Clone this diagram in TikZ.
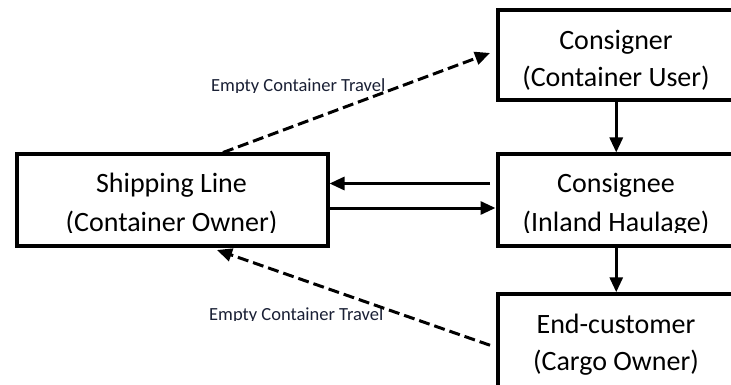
\documentclass[tikz,border=0pt]{standalone}
\usepackage{fontspec}
\setmainfont{Carlito}
\usetikzlibrary{arrows.meta}
\definecolor{labelcol}{HTML}{1A2035}
\tikzset{
  box/.style={draw=black, line width=4pt, rectangle, inner sep=0pt, outer sep=2pt},
  boxtext/.style={anchor=base, inner sep=0pt, font=\fontsize{28}{34}\selectfont, text=black},
  lbltext/.style={anchor=base west, inner sep=0pt, font=\fontsize{18.5}{22}\selectfont, text=labelcol},
  solidarrow/.style={line width=3pt, -{Triangle[length=15pt,width=13pt]}},
  dasharrow/.style={line width=3pt, dash pattern=on 11pt off 5pt, -{Triangle[length=15pt,width=13pt]}}
}
\begin{document}
\begin{tikzpicture}[x=1pt,y=-1pt]
\useasboundingbox (0,0) rectangle (731,385);
\fill[white] (0,0) rectangle (731,385);
\clip (0,0) rectangle (731,385);
% boxes
\node[box, minimum width=237.5pt, minimum height=90pt] (cnr) at (616.25,55.5) {};
\node[box, minimum width=237.5pt, minimum height=91pt] (cee) at (616.25,200) {};
\node[box, minimum width=237.5pt, minimum height=96pt] (end) at (616.25,342.25) {};
\node[box, minimum width=310.5pt, minimum height=91pt] (ship) at (172.25,200) {};
% box texts
\node[boxtext] (t1) at (616,50) {Consigner};
\node[boxtext] (t2) at (616,87) {(Container User)};
\node[boxtext] (t3) at (616,193) {Consignee};
\node[boxtext] (t5) at (616,333) {End-customer};
\node[boxtext] (t6) at (616,370) {(Cargo Owner)};
\node[boxtext] (t7) at (171.5,193) {Shipping Line};
\begin{scope}
\clip (0,0) rectangle (731,232);
\node[boxtext] (t4) at (616,231) {(Inland Haulage)};
\node[boxtext] (t8) at (171.5,231) {(Container Owner)};
\end{scope}
% labels
\begin{scope}
\clip (0,0) rectangle (731,92.5);
\node[lbltext] (l1) at (211,92) {Empty Container Travel};
\end{scope}
\begin{scope}
\clip (0,250) rectangle (731,320.5);
\node[lbltext] (l2) at (209,320) {Empty Container Travel};
\end{scope}
% solid arrows
\draw[solidarrow] (cnr.south) -- (cee.north);
\draw[solidarrow] (cee.south) -- (end.north);
\draw[solidarrow] ([xshift=-5.5pt,yshift=16.5pt]cee.west) -- ([yshift=16.5pt]ship.east);
\draw[solidarrow] ([yshift=-8pt]ship.east) -- ([yshift=-8pt]cee.west);
% dashed arrows
\draw[dasharrow] ([xshift=208pt]ship.north west) -- ([xshift=-5.5pt,yshift=2.5pt]cnr.west);
\draw[dasharrow] ([xshift=-5.5pt,yshift=-3pt]end.west) -- ([xshift=202pt,yshift=-2.5pt]ship.south west);
\end{tikzpicture}
\end{document}
